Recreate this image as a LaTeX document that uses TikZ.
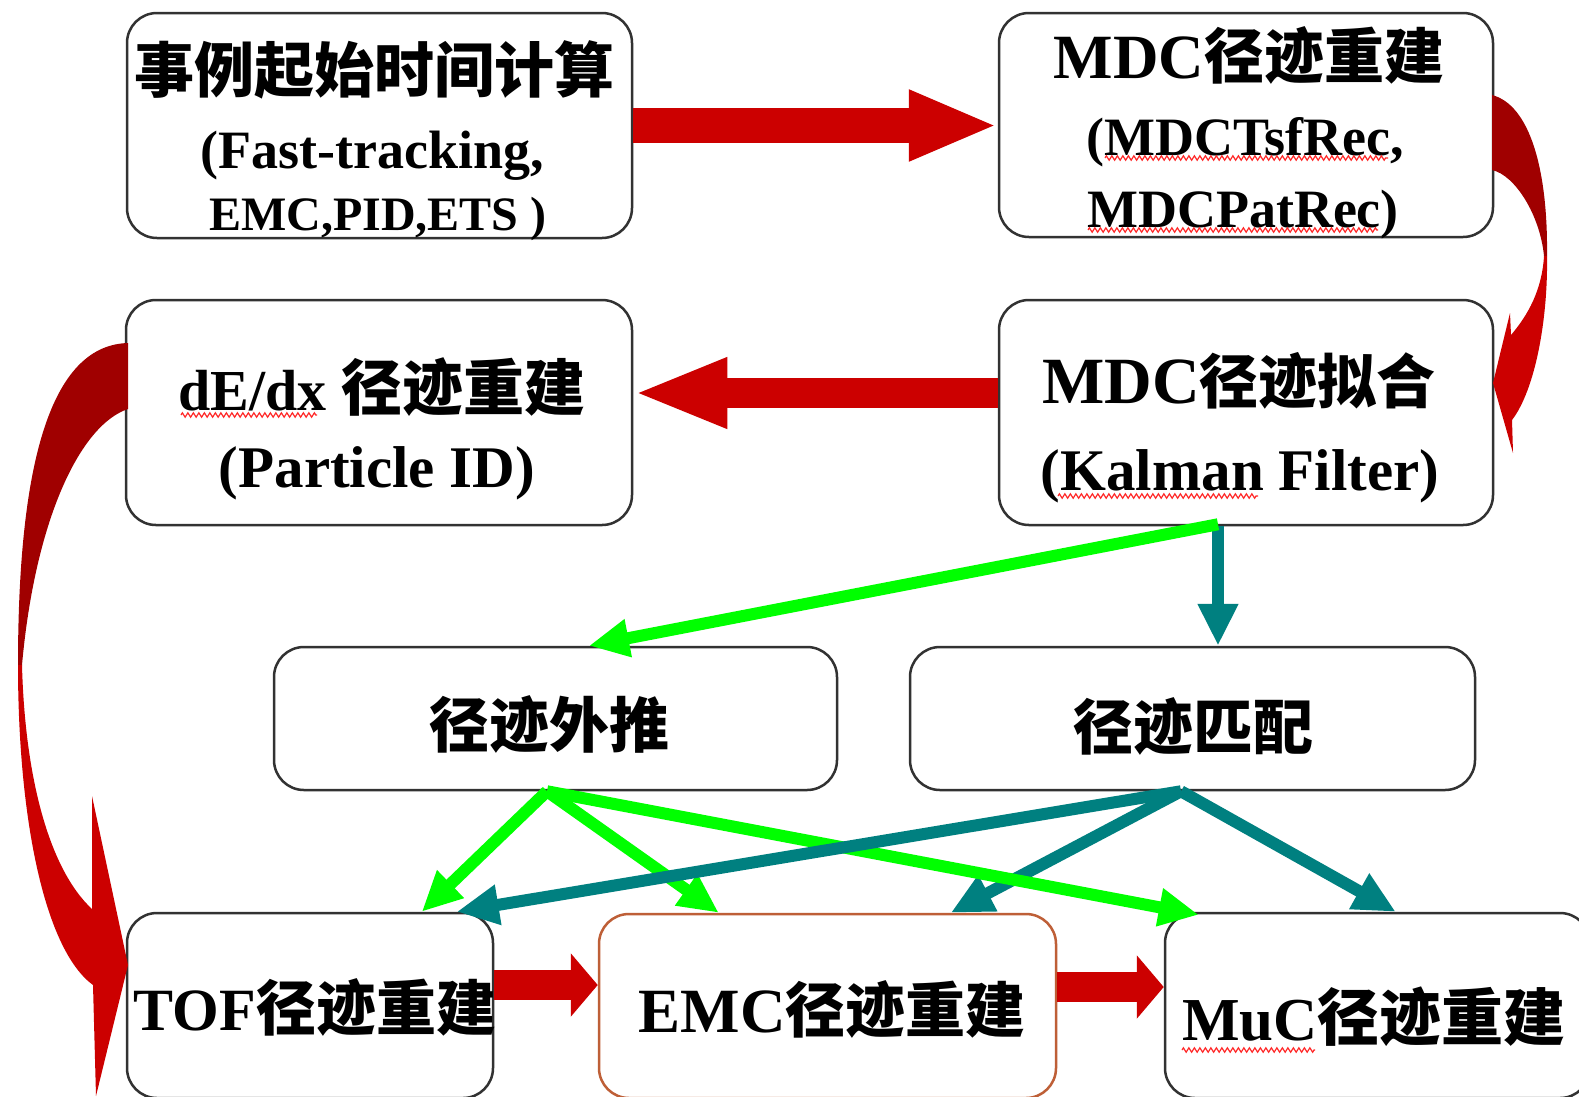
\documentclass[tikz,border=0pt]{standalone}
\usepackage{fontspec}
\setmainfont{Liberation Serif}
\newfontfamily\cjk{Noto Sans CJK SC}
\usetikzlibrary{arrows.meta,calc,decorations.pathmorphing}

% font switches: Latin bold, Chinese bold
\newcommand\setlat[1]{\rmfamily\bfseries\fontsize{#1}{#1}\selectfont}
\newcommand\sethan[1]{\cjk\bfseries\fontsize{#1}{#1}\selectfont}

\definecolor{arrowred}{RGB}{204,0,0}
\definecolor{darkband}{RGB}{160,0,0}
\definecolor{linkgreen}{RGB}{0,255,0}
\definecolor{linkteal}{RGB}{0,128,128}
\definecolor{boxline}{RGB}{50,50,50}
\definecolor{emcline}{RGB}{190,95,55}
\definecolor{squigred}{RGB}{255,40,40}

\tikzset{
  box/.style={draw=boxline, line width=2.5pt, rounded corners=30pt, fill=white, inner sep=0pt},
  txt/.style={anchor=base, inner sep=0pt, text=black},
  greenlink/.style={draw=linkgreen, line width=12pt, -{Triangle[length=40pt,width=36pt]}},
  teallink/.style={draw=linkteal, line width=12pt, -{Triangle[length=42pt,width=38pt]}},
  squig/.style={draw=squigred, line width=1.2pt, decorate,
                decoration={zigzag, amplitude=2.2pt, segment length=5.5pt}},
}

\begin{document}
\begin{tikzpicture}[x=1pt, y=-1pt]
\useasboundingbox (0,0) rectangle (1579,1096);
\clip (0,0) rectangle (1579,1096);
\fill[white] (0,0) rectangle (1579,1096);

% ---------- boxes ----------
\node[box, minimum width=505pt, minimum height=225pt] (b1) at (379.5,125.5) {};
\node[box, minimum width=494pt, minimum height=224pt] (b2) at (1246,125) {};
\node[box, minimum width=506pt, minimum height=225pt] (b3) at (379,412.5) {};
\node[box, minimum width=494pt, minimum height=225pt] (b4) at (1246,412.5) {};
\node[box, minimum width=563pt, minimum height=143pt] (b5) at (555.5,718.5) {};
\node[box, minimum width=565pt, minimum height=143pt] (b6) at (1192.5,718.5) {};
\node[box, minimum width=366pt, minimum height=185pt] (b7) at (310,1005.5) {};
\node[box, draw=emcline, minimum width=457pt, minimum height=184pt] (b8) at (827.5,1006) {};
\node[box, minimum width=425pt, minimum height=185pt] (b9) at (1377.5,1005.5) {};

% ---------- texts ----------
\node[txt] (t1a) at (374,92)  {\sethan{60}事例起始时间计算};
\node[txt] (t1b) at (372,168) {\setlat{54}(Fast-tracking,};
\node[txt] (t1c) at (378,230) {\setlat{48}EMC,PID,ETS )};

\node[txt] (t2a) at (1249,78)  {\setlat{63}MDC\sethan{60}径迹重建};
\node[txt] (t2b) at (1245,155) {\setlat{54}(MDCTsfRec,};
\node[txt] (t2c) at (1243,227) {\setlat{54}MDCPatRec)};

\node[txt] (t3a) at (382,410) {\setlat{58}dE/dx \sethan{61}径迹重建};
\node[txt] (t3b) at (377,487) {\setlat{59}(Particle ID)};

\node[txt] (t4a) at (1239,403) {\setlat{66}MDC\sethan{59}径迹拟合};
\node[txt] (t4b) at (1240,490) {\setlat{59}(Kalman Filter)};

\node[txt] (t5) at (549,747)  {\sethan{60}径迹外推};
\node[txt] (t6) at (1193,749) {\sethan{60}径迹匹配};

\node[txt] (t7) at (315,1030)  {\setlat{60}TOF\sethan{60}径迹重建};
\node[txt] (t8) at (832,1032)  {\setlat{63}EMC\sethan{60}径迹重建};
\node[txt] (t9) at (1374,1040) {\setlat{61}MuC\sethan{62}径迹重建};

% spell-check style wavy underlines
\draw[squig] (1105,158) -- (1388,158);
\draw[squig] (1088,230) -- (1378,230);
\draw[squig] (181,415) -- (317,415);
\draw[squig] (1058,496) -- (1258,496);
\draw[squig] (1182,1050) -- (1315,1050);

% ---------- straight block arrows ----------
\draw[arrowred, line width=35pt, -{Triangle[length=89pt,width=65pt]}]
  (b1.east) -- (b1.east -| b2.west);
\coordinate (r2) at ($(b4.west)+(0,-19.5)$);
\draw[arrowred, line width=30pt, -{Triangle[length=94pt,width=64pt]}]
  (r2) -- (r2 -| b3.east);
\coordinate (r3) at ($(b7.east)+(0,-20.5)$);
\draw[arrowred, line width=30pt, -{Triangle[length=27pt,width=62pt]}]
  (r3) -- (r3 -| b8.west);
\coordinate (r4) at ($(b8.east)+(0,-19)$);
\draw[arrowred, line width=30pt, -{Triangle[length=27pt,width=62pt]}]
  (r4) -- (r4 -| b9.west);

% ---------- curved arrow: MDC reconstruction -> MDC fit ----------
\fill[darkband] (1492,95) .. controls (1530,105) and (1548,170) .. (1547,256)
  -- (1544,256) .. controls (1540,215) and (1515,175) .. (1492,170) -- cycle;
\fill[arrowred] (1547,256) .. controls (1548,320) and (1535,390) .. (1512,420)
  -- (1513,453) -- (1493,383) -- (1510,313) -- (1511,335)
  .. controls (1528,315) and (1542,290) .. (1544,256) -- cycle;

% ---------- curved arrow: dE/dx -> TOF ----------
\fill[darkband] (128,343) .. controls (55,345) and (18,450) .. (18,665)
  -- (22,665) .. controls (35,520) and (80,425) .. (128,409) -- cycle;
\fill[arrowred] (18,665) .. controls (18,820) and (45,950) .. (93,985)
  -- (96,1096) -- (128,965) -- (92,796) -- (92,909)
  .. controls (50,870) and (25,780) .. (22,665) -- cycle;

% ---------- track links ----------
\draw[teallink] ($(b4.south)+(-28,0)$) -- ($(b6.north)+(25.5,0)$);
\draw[greenlink] ($(b4.south)+(-28,-2)$) -- ($(b5.north)+(33.5,0)$);

\draw[teallink] ($(b6.south)+(-11.5,0)$) -- ($(b8.north west)+(353,0)$);
\draw[teallink] ($(b6.south)+(-11.5,0)$) -- ($(b9.north west)+(232,0)$);
\draw[greenlink] ($(b5.south)+(-8.5,0)$) -- ($(b7.north west)+(296,0)$);
\draw[greenlink] ($(b5.south)+(-8.5,0)$) -- ($(b8.north west)+(121,0)$);
\draw[greenlink] ($(b5.south)+(-8.5,0)$) -- ($(b9.north west)+(35,3)$);
\draw[teallink] ($(b6.south)+(-11.5,0)$) -- ($(b7.north west)+(331,0)$);
\end{tikzpicture}
\end{document}
